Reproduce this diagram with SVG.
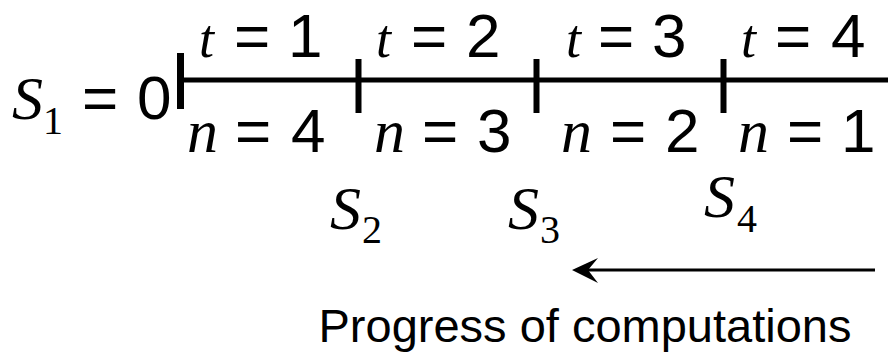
<svg xmlns="http://www.w3.org/2000/svg" width="888" height="352" viewBox="0 0 888 352">
<style>
.sans{font-family:"Liberation Sans",Arial,sans-serif;font-size:62px;fill:#000}
.it{font-family:"Liberation Serif","Times New Roman",serif;font-style:italic;font-size:62px;fill:#000}
.tt{font-family:"Liberation Serif","Times New Roman",serif;font-style:italic;font-size:54px;fill:#000}
.sub{font-family:"Liberation Serif","Times New Roman",serif;font-size:40px;fill:#000}
.cap{font-family:"Liberation Sans",Arial,sans-serif;font-size:47px;fill:#000}
.ln{stroke:#000;fill:none}
</style>
<rect width="888" height="352" fill="#fff"/>
<g id="timeline">
<line class="ln" x1="178" y1="80" x2="888" y2="80" stroke-width="5"/>
<line class="ln" x1="180.5" y1="53" x2="180.5" y2="109" stroke-width="7"/>
<line class="ln" x1="358.5" y1="59" x2="358.5" y2="113" stroke-width="6"/>
<line class="ln" x1="536.5" y1="59" x2="536.5" y2="113" stroke-width="6"/>
<line class="ln" x1="723.5" y1="59" x2="723.5" y2="113" stroke-width="6"/>
</g>
<g id="s1"><text y="119"><tspan class="it" x="12">S</tspan><tspan class="sub" x="43" y="134">1</tspan><tspan class="sans" x="82" y="119">=</tspan><tspan class="sans" x="137">0</tspan></text></g>
<g id="t1"><text y="57"><tspan class="tt" x="199">t</tspan><tspan class="sans" x="234">=</tspan><tspan class="sans" x="288">1</tspan></text></g>
<g id="t2"><text y="57"><tspan class="tt" x="376">t</tspan><tspan class="sans" x="411">=</tspan><tspan class="sans" x="466">2</tspan></text></g>
<g id="t3"><text y="57"><tspan class="tt" x="566">t</tspan><tspan class="sans" x="598">=</tspan><tspan class="sans" x="652">3</tspan></text></g>
<g id="t4"><text y="57"><tspan class="tt" x="741">t</tspan><tspan class="sans" x="775">=</tspan><tspan class="sans" x="831">4</tspan></text></g>
<g id="n4"><text y="152"><tspan class="it" x="187">n</tspan><tspan class="sans" x="235">=</tspan><tspan class="sans" x="291">4</tspan></text></g>
<g id="n3"><text y="152"><tspan class="it" x="374">n</tspan><tspan class="sans" x="422">=</tspan><tspan class="sans" x="477">3</tspan></text></g>
<g id="n2"><text y="152"><tspan class="it" x="561">n</tspan><tspan class="sans" x="610">=</tspan><tspan class="sans" x="665">2</tspan></text></g>
<g id="n1"><text y="152"><tspan class="it" x="738">n</tspan><tspan class="sans" x="787">=</tspan><tspan class="sans" x="841">1</tspan></text></g>
<g id="s2"><text y="229"><tspan class="it" x="330">S</tspan><tspan class="sub" x="362" y="243">2</tspan></text></g>
<g id="s3"><text y="229"><tspan class="it" x="508">S</tspan><tspan class="sub" x="540" y="243">3</tspan></text></g>
<g id="s4"><text y="217"><tspan class="it" x="704">S</tspan><tspan class="sub" x="737" y="232">4</tspan></text></g>
<g id="connectors">
<line class="ln" x1="586" y1="270" x2="875" y2="270" stroke-width="3"/>
<path d="M572,270 L598,258 L588,270 L598,283 Z" fill="#000"/>
</g>
<g id="caption"><text class="cap" x="318.5" y="342">Progress of computations</text></g>
</svg>
